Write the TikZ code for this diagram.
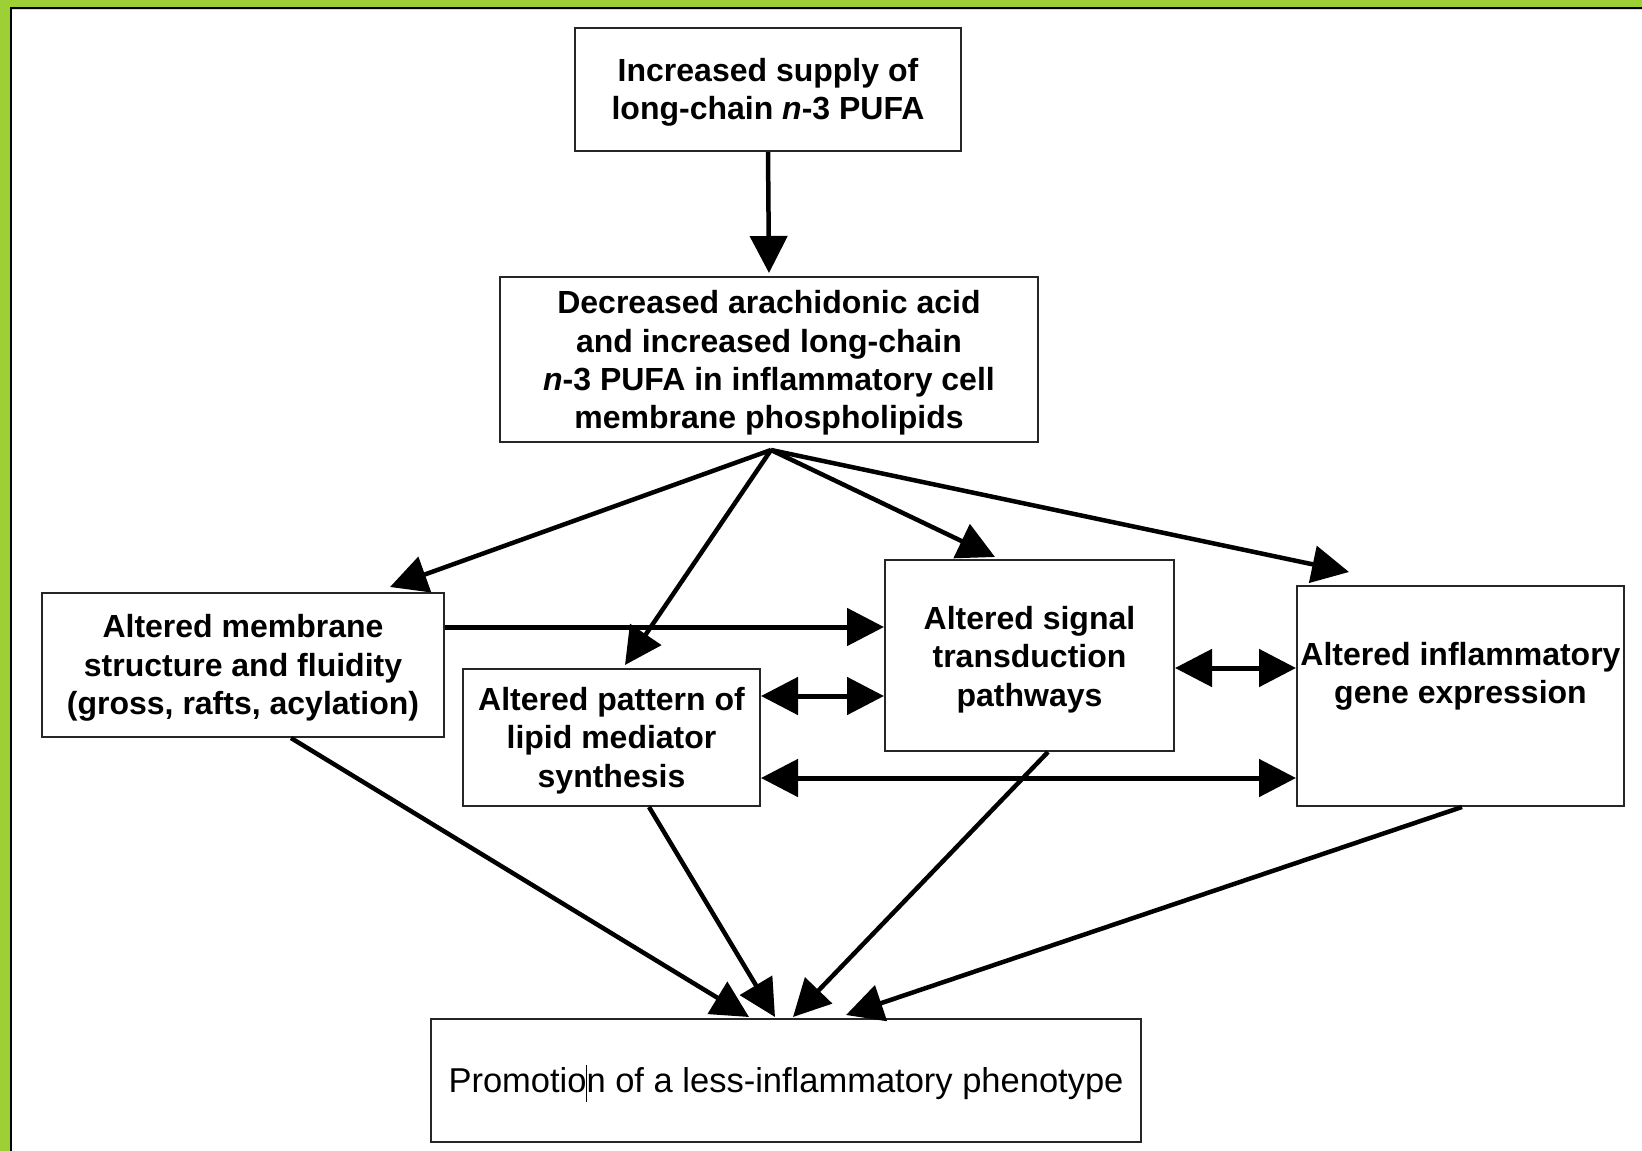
\documentclass[tikz,border=0pt]{standalone}
\usepackage{fontspec}
\setmainfont{Liberation Sans}
\usetikzlibrary{arrows.meta,calc}
\definecolor{framegreen}{RGB}{156,208,52}
\begin{document}
\begin{tikzpicture}[x=1pt,y=-1pt,
  box/.style={draw=black!85, line width=2pt, inner sep=0pt},
  txt/.style={inner sep=0pt, align=center, font=\fontsize{32}{38.3}\selectfont\bfseries},
  plaintxt/.style={inner sep=0pt, align=center, font=\fontsize{34.5}{40}\selectfont},
  arr/.style={line width=4.5pt, -{Triangle[length=37pt,width=37pt]}},
  darr/.style={line width=5pt, {Triangle[length=37pt,width=37pt]}-{Triangle[length=37pt,width=37pt]}},
]
\useasboundingbox (0,0) rectangle (1642,1151);
\fill[white] (0,0) rectangle (1642,1151);

% green frame with its dark inner rule
\fill[framegreen] (0,0) rectangle (10,1151);
\fill[framegreen] (0,0) rectangle (1642,7);
\fill[black] (10,7) rectangle (12,1151);
\fill[black] (10,7) rectangle (1642,9);
\fill[black!15] (12,9) rectangle (1642,10);

% boxes
\node[box, minimum width=386pt, minimum height=123pt] (supply) at (768,89.5) {};
\node[box, minimum width=538pt, minimum height=165pt] (membr) at (769,359.5) {};
\node[box, minimum width=402pt, minimum height=144pt] (fluid) at (243,665) {};
\node[box, minimum width=297pt, minimum height=137pt] (lipid) at (611.5,737.5) {};
\node[box, minimum width=289pt, minimum height=191pt] (signal) at (1029.5,655.5) {};
\node[box, minimum width=327pt, minimum height=220pt] (gene) at (1460.5,696) {};
\node[box, minimum width=710pt, minimum height=123pt] (pheno) at (786,1080.5) {};

% box texts
\node[txt] (supplytxt) at ($(supply)+(0,3)$) {Increased supply of\\long-chain \textit{n}-3 PUFA};
\node[txt] (membrtxt) at ($(membr)+(0,3.5)$)
  {Decreased arachidonic acid\\and increased long-chain\\\textit{n}-3 PUFA in inflammatory cell\\membrane phospholipids};
\node[txt] (fluidtxt) at ($(fluid)+(0,3)$) {Altered membrane\\structure and fluidity\\(gross, rafts, acylation)};
\node[txt] (lipidtxt) at ($(lipid)+(0,3)$) {Altered pattern of\\lipid mediator\\synthesis};
\node[txt] (signaltxt) at ($(signal)+(0,4)$) {Altered signal\\transduction\\pathways};
\node[txt] (genetxt) at ($(gene)+(0,-19.5)$) {Altered inflammatory\\gene expression};
\node[plaintxt] (phenotxt) at ($(pheno)+(0,3)$)
  {Promotio\makebox[0pt]{\rule[-0.3em]{1.5pt}{1.1em}}n of a less-inflammatory phenotype};

% connectors
\draw[arr] (supply.south) -- ($(membr.north)+(0,-3)$);

\coordinate (fan) at ($(membr.south)+(2,7)$);
\draw[arr] (fan) -- ($(fluid.north)+(147,-5)$);
\draw[arr] (fan) -- ($(lipid.north)+(13.5,-3)$);
\draw[arr] (fan) -- ($(signal.north)+(-34.5,-2)$);
\draw[arr] (fan) -- ($(gene.north)+(-111.5,-13)$);

\draw[arr, line width=5pt] (fluid.east |- 0,627) -- (signal.west |- 0,627);
\draw[darr] (lipid.east |- 0,696) -- (signal.west |- 0,696);
\draw[darr] (signal.east |- 0,668) -- (gene.west |- 0,668);
\draw[darr] (lipid.east |- 0,778) -- (gene.west |- 0,778);

\draw[arr] ($(fluid.south)+(48,0)$) -- ($(pheno.north)+(-37,-1)$);
\draw[arr] ($(lipid.south)+(37.5,0)$) -- ($(pheno.north)+(-11,-1)$);
\draw[arr] ($(signal.south)+(18.5,0)$) -- ($(pheno.north)+(7,-1)$);
\draw[arr] ($(gene.south)+(1.5,0)$) -- ($(pheno.north)+(60,-3)$);
\end{tikzpicture}
\end{document}
